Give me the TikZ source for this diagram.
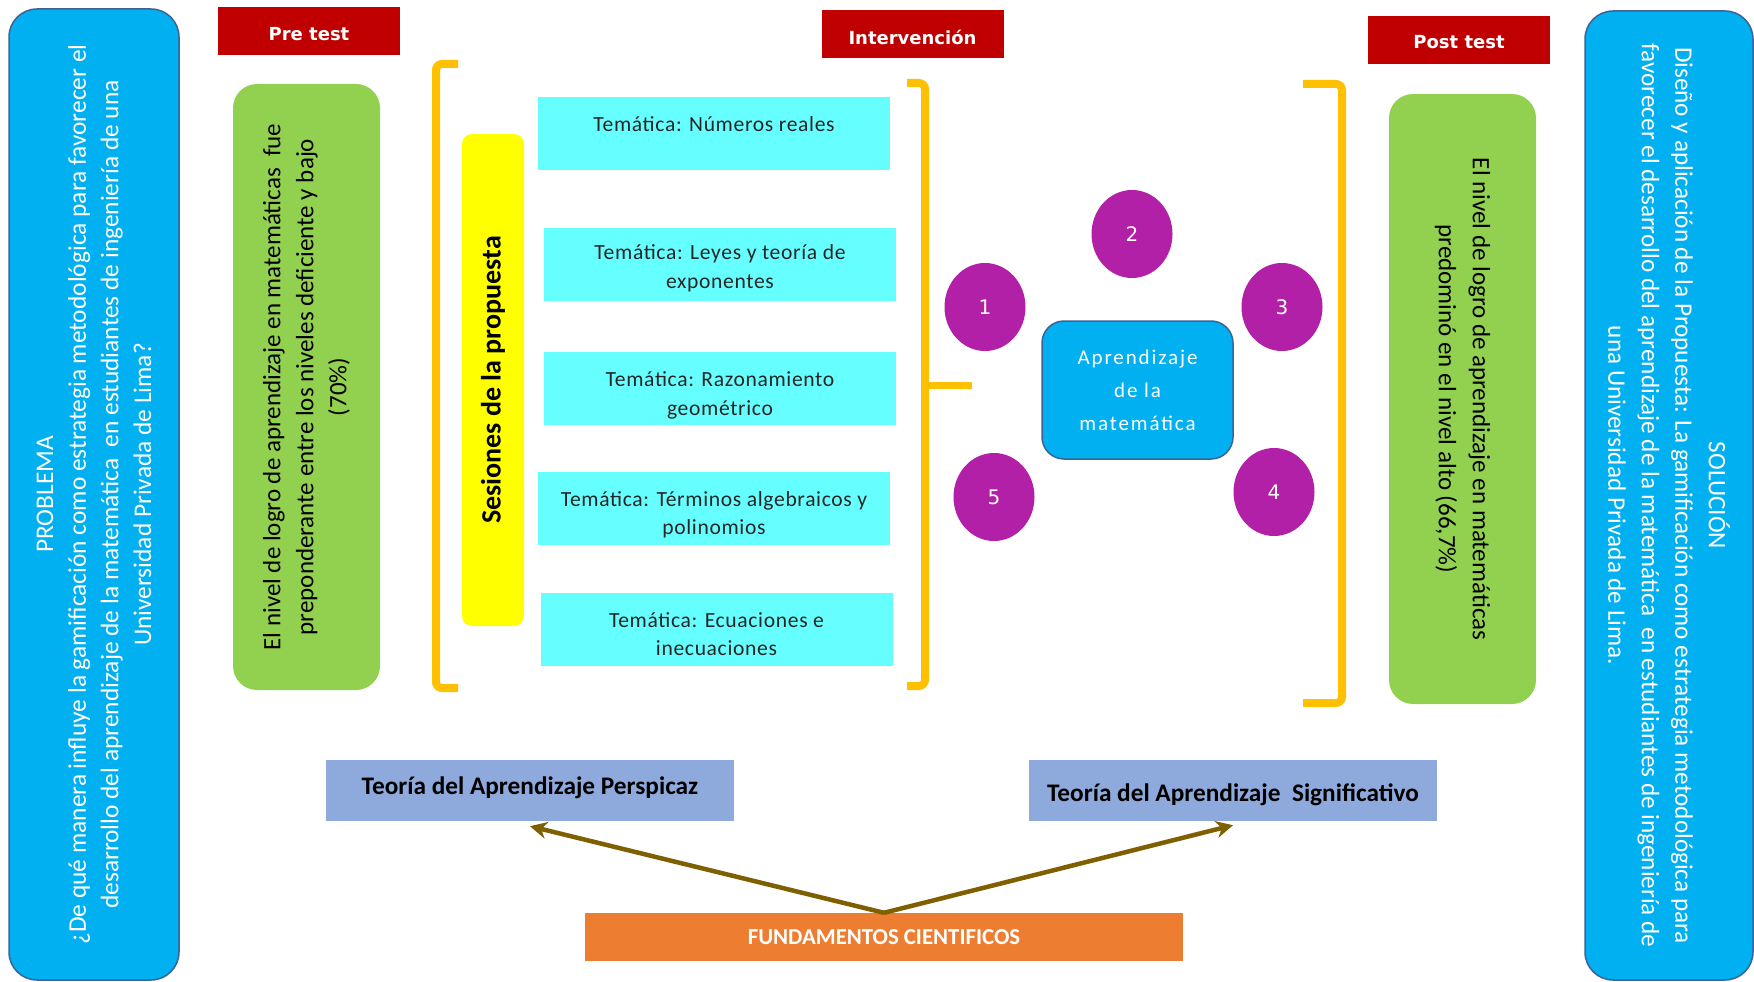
\documentclass[tikz,border=0pt]{standalone}
\usepackage{fontspec}
\setmainfont{Carlito}
\newfontfamily\redfont{DejaVu Sans}
\newfontfamily\spfont[LetterSpace=9]{Carlito}
\newfontfamily\tmfont[LetterSpace=3]{Carlito}
\usetikzlibrary{arrows.meta,shapes.geometric}
\definecolor{skyb}{HTML}{00B0F0}
\definecolor{boxborder}{HTML}{3C6395}
\definecolor{darkred}{HTML}{C00000}
\definecolor{lgreen}{HTML}{92D050}
\definecolor{yel}{HTML}{FFFF00}
\definecolor{cyanb}{HTML}{66FFFF}
\definecolor{gold}{HTML}{FFC000}
\definecolor{purp}{HTML}{B320A8}
\definecolor{lav}{HTML}{8EA9DB}
\definecolor{orng}{HTML}{ED7D31}
\definecolor{olivebrown}{HTML}{7F6000}
\newcommand\shiftby[2]{\raisebox{#1}[\height][\depth]{#2}}
\newcommand\tlines[2][-6pt]{\shiftby{#1}{\begin{tabular}{@{}c@{}}#2\end{tabular}}}
\begin{document}
\begin{tikzpicture}[x=1pt,y=-1pt,
  bigbox/.style={draw=boxborder, line width=1.5pt, fill=skyb, rounded corners=28pt, text=white, align=center, inner sep=0pt},
  redlabel/.style={fill=darkred, text=white, font=\redfont\bfseries\fontsize{18}{22}\selectfont, inner sep=0pt, minimum width=182pt, minimum height=48pt},
  greenbox/.style={fill=lgreen, rounded corners=24pt, align=center, inner sep=0pt, text=black},
  tema/.style={fill=cyanb, minimum width=352pt, minimum height=73pt, inner sep=0pt, text=black!85, font=\tmfont\fontsize{21.6}{28.5}\selectfont},
  circ/.style={ellipse, fill=purp, minimum width=81pt, minimum height=88pt, inner sep=0pt, text=white, font=\redfont\fontsize{20}{24}\selectfont},
  bracketline/.style={draw=gold, line width=8pt, rounded corners=6pt},
  teoria/.style={fill=lav, minimum width=408pt, minimum height=61pt, inner sep=0pt, text=black, font=\bfseries\fontsize{25.3}{30}\selectfont},
  arr/.style={draw=olivebrown, line width=4.5pt, -{Stealth[length=17pt,width=17pt]}}
]
\useasboundingbox (0,0) rectangle (1754,982);

% Problem box
\node[bigbox, rotate=90, minimum width=971pt, minimum height=170pt,
  font=\fontsize{25.4}{32.7}\selectfont] (prob) at (94,494.5)
  {PROBLEMA\\
   ¿De qué manera influye la gamificación como estrategia metodológica para favorecer el\\
   desarrollo del aprendizaje de la matemática \ en estudiantes de ingeniería de una\\
   Universidad Privada de Lima?};

% Solution box
\node[bigbox, rotate=-90, minimum width=969pt, minimum height=168pt,
  font=\fontsize{25.2}{33.5}\selectfont] (sol) at (1669,495.5)
  {SOLUCIÓN\\
   Diseño y aplicación de la Propuesta: La gamificación como estrategia metodológica para\\
   favorecer el desarrollo del aprendizaje de la matemática \ en estudiantes de ingeniería de\\
   una Universidad Privada de Lima.};

% Red labels
\node[redlabel] (pre) at (309,31.5) {\shiftby{-3pt}{Pre test}};
\node[redlabel] (inter) at (912.5,34.5) {\shiftby{-2.5pt}{Intervención}};
\node[redlabel] (post) at (1459,40) {\shiftby{-2.5pt}{Post test}};

% Green boxes
\node[greenbox, rotate=90, minimum width=606pt, minimum height=147pt,
  font=\fontsize{25}{33}\selectfont] (pregreen) at (306.5,387)
  {El nivel de logro de aprendizaje en matemáticas \ fue\\
   preponderante entre los niveles deficiente y bajo\\
   (70\%)};
\node[greenbox, rotate=-90, minimum width=610pt, minimum height=147pt,
  font=\fontsize{25}{34}\selectfont] (postgreen) at (1462.5,399)
  {El nivel de logro de aprendizaje en matemáticas\\
   predominó en el nivel alto (66,7\%)};

% Yellow box
\node[fill=yel, rotate=90, rounded corners=10pt, minimum width=492pt, minimum height=62pt,
  inner sep=0pt, font=\bfseries\fontsize{28}{32}\selectfont] (ses) at (493,380)
  {Sesiones de la propuesta};

% Tematica boxes
\node[tema] (t1) at (714,133.5) {\tlines[-6.5pt]{Temática: Números reales\\\mbox{}}};
\node[tema] (t2) at (720,264) {\tlines[-4.5pt]{Temática: Leyes y teoría de\\exponentes}};
\node[tema] (t3) at (720,388) {\tlines[-7.5pt]{Temática: Razonamiento\\geométrico}};
\node[tema] (t4) at (714,508.5) {\tlines[-6.5pt]{Temática: Términos algebraicos y\\polinomios}};
\node[tema] (t5) at (716.5,629.5) {\tlines[-6.5pt]{Temática: Ecuaciones e\\inecuaciones}};

% Brackets
\draw[bracketline] (458,64) -- (436,64) -- (436,688) -- (458,688);
\draw[bracketline] (907,83) -- (925,83) -- (925,686) -- (907,686);
\draw[draw=gold, line width=7pt] (925,385) -- (972,385);
\draw[bracketline] (1303,84) -- (1342,84) -- (1342,703) -- (1303,703);

% Center box and circles
\node[draw=boxborder, line width=1.5pt, fill=skyb, rounded corners=22pt,
  minimum width=191pt, minimum height=138pt, inner sep=0pt, align=center, text=white,
  font=\spfont\fontsize{21}{33}\selectfont] (apr) at (1137.5,390)
  {Aprendizaje\\de la\\matemática};
\node[circ] (c1) at (985,307) {1};
\node[circ] (c2) at (1132,234) {2};
\node[circ] (c3) at (1282,307) {3};
\node[circ] (c4) at (1274,492) {4};
\node[circ] (c5) at (994,497) {5};

% Theories
\node[teoria] (perc) at (530,790.5) {\shiftby{3pt}{Teoría del Aprendizaje Perspicaz}};
\node[teoria] (sig) at (1233,790.5) {\shiftby{-4.5pt}{Teoría del Aprendizaje \ Significativo}};
\node[fill=orng, minimum width=598pt, minimum height=48pt, inner sep=0pt, text=white,
  font=\bfseries\fontsize{22.8}{26}\selectfont] (fund) at (884,937) {FUNDAMENTOS CIENTIFICOS};

% Arrows
\draw[arr] (fund.north) -- ([yshift=-5pt]perc.south);
\draw[arr] (fund.north) -- ([yshift=-4pt]sig.south);
\end{tikzpicture}
\end{document}
